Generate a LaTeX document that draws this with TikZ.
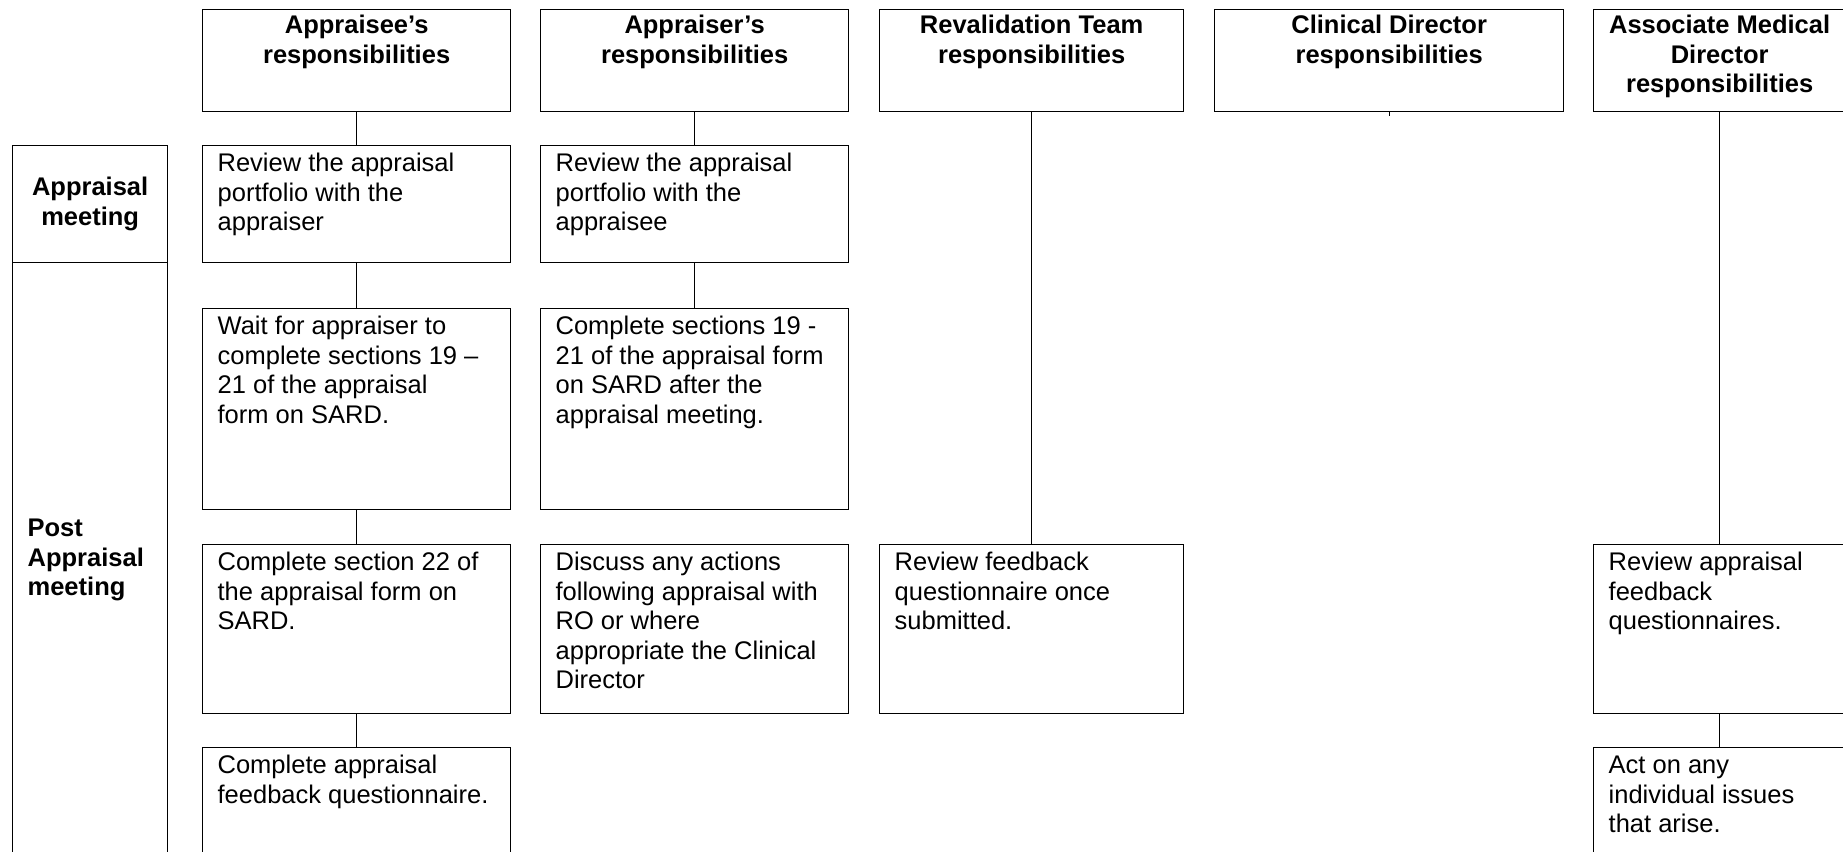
\documentclass[tikz,border=0pt]{standalone}
\usepackage{fontspec}
\setmainfont{Liberation Sans}
\newcommand{\cellbox}[3]{\parbox[c][#2pt][t]{#1pt}{\raggedright\leftskip=15pt\rule{0pt}{26pt}#3}}
\newcommand{\headbox}[3]{\parbox[c][#2pt][t]{#1pt}{\centering\bfseries\rule{0pt}{24pt}#3}}
\tikzset{
  box/.style={draw, line width=1.3pt, inner sep=0pt, anchor=north west,
    font=\fontsize{25.5pt}{29.5pt}\selectfont},
  link/.style={line width=1.3pt}
}
\begin{document}
\begin{tikzpicture}[x=1pt,y=-1pt]
\path[use as bounding box] (0,0) rectangle (1843,851);
\clip (0,0) rectangle (1843,851);
% headers
\node[box] (hA) at (202,9) {\headbox{308}{102}{Appraisee’s\\responsibilities}};
\node[box] (hB) at (540,9) {\headbox{308}{102}{Appraiser\char"27 s\\responsibilities}};
\node[box] (hC) at (879,9) {\headbox{304}{102}{Revalidation Team\\responsibilities}};
\node[box] (hD) at (1214,9) {\headbox{349}{102}{Clinical Director\\responsibilities}};
\node[box] (hE) at (1593,9) {\headbox{252}{102}{Associate Medical\\Director\\responsibilities}};
% left column
\node[box] (m1) at (12,145) {\parbox[c][117pt][c]{155pt}{\centering\bfseries Appraisal\\meeting}};
\node[box] (m2) at (12,262) {\parbox[c][640pt][t]{155pt}{\raggedright\leftskip=15pt\bfseries\rule{0pt}{274pt}Post\\Appraisal\\meeting}};
% appraisee column
\node[box] (a1) at (202,145) {\cellbox{308}{117}{Review the appraisal\\portfolio with the\\appraiser}};
\node[box] (a2) at (202,308) {\cellbox{308}{201}{Wait for appraiser to\\complete sections 19 –\\21 of the appraisal\\form on SARD.}};
\node[box] (a3) at (202,544) {\cellbox{308}{169}{Complete section 22 of\\the appraisal form on\\SARD.}};
\node[box] (a4) at (202,747) {\cellbox{308}{150}{Complete appraisal\\feedback questionnaire.}};
% appraiser column
\node[box] (b1) at (540,145) {\cellbox{308}{117}{Review the appraisal\\portfolio with the\\appraisee}};
\node[box] (b2) at (540,308) {\cellbox{308}{201}{Complete sections 19 -\\21 of the appraisal form\\on SARD after the\\appraisal meeting.}};
\node[box] (b3) at (540,544) {\cellbox{308}{169}{Discuss any actions\\following appraisal with\\RO or where\\appropriate the Clinical\\Director}};
% revalidation
\node[box] (c3) at (879,544) {\cellbox{304}{169}{Review feedback\\questionnaire once\\submitted.}};
% associate medical director
\node[box] (e3) at (1593,544) {\cellbox{252}{169}{Review appraisal\\feedback\\questionnaires.}};
\node[box] (e4) at (1593,747) {\cellbox{252}{150}{Act on any\\individual issues\\that arise.}};
% connectors
\draw[link] (hA.south) -- (a1.north);
\draw[link] (a1.south) -- (a2.north);
\draw[link] (a2.south) -- (a3.north);
\draw[link] (a3.south) -- (a4.north);
\draw[link] (hB.south) -- (b1.north);
\draw[link] (b1.south) -- (b2.north);
\draw[link] (hC.south) -- (c3.north);
\coordinate (dtick) at ([yshift=-4pt]hD.south);
\draw[link] (hD.south) -- (dtick);
\draw[link] (hE.south) -- (e3.north);
\draw[link] (e3.south) -- (e4.north);
\end{tikzpicture}
\end{document}
